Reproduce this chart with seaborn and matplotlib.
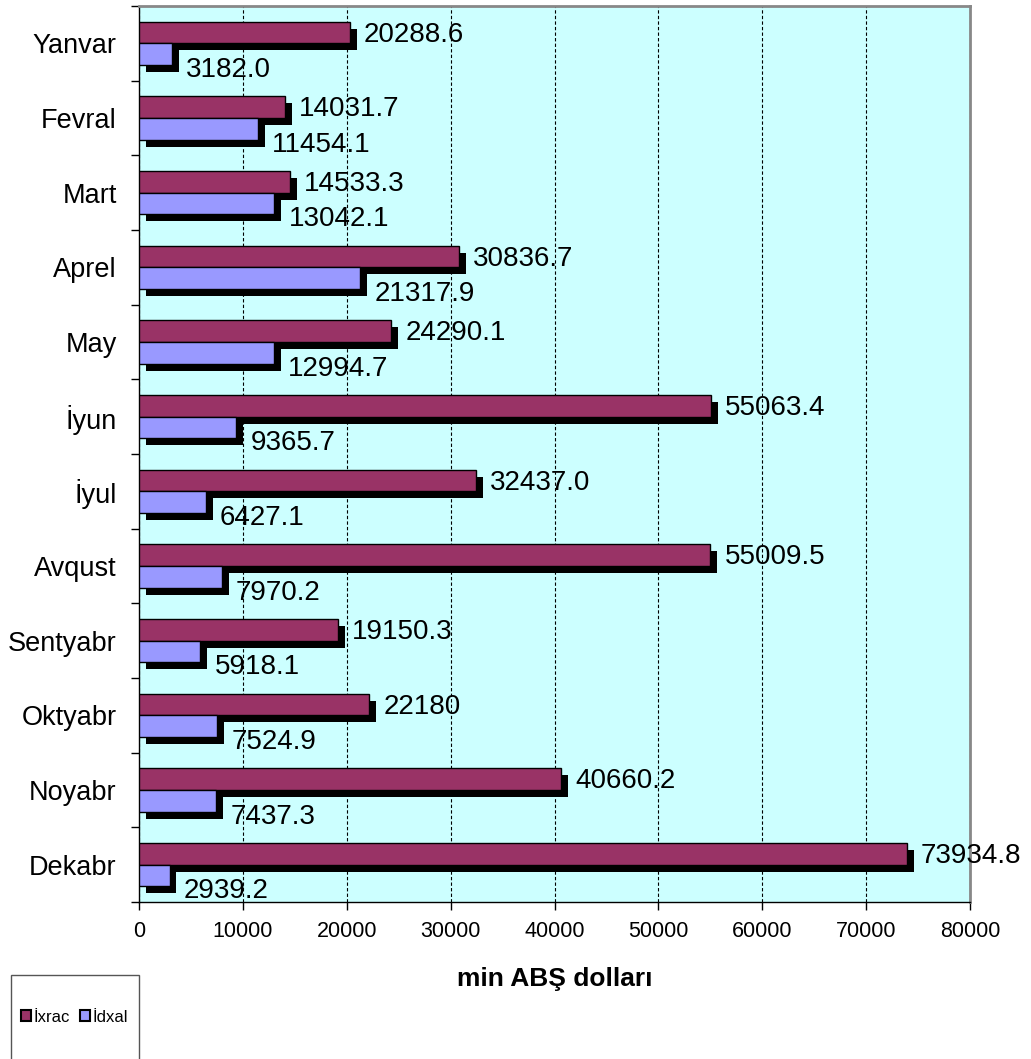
import pandas as pd
import seaborn as sns
import matplotlib.pyplot as plt
import matplotlib.patheffects as pe
from matplotlib.patches import Patch, Rectangle
from matplotlib.ticker import FixedLocator

months = ['Yanvar', 'Fevral', 'Mart', 'Aprel', 'May', 'İyun', 'İyul',
          'Avqust', 'Sentyabr', 'Oktyabr', 'Noyabr', 'Dekabr']
ixrac = [20288.6, 14031.7, 14533.3, 30836.7, 24290.1, 55063.4, 32437.0,
         55009.5, 19150.3, 22180, 40660.2, 73934.8]
idxal = [3182.0, 11454.1, 13042.1, 21317.9, 12994.7, 9365.7, 6427.1,
         7970.2, 5918.1, 7524.9, 7437.3, 2939.2]
ixrac_labels = ['20288.6', '14031.7', '14533.3', '30836.7', '24290.1', '55063.4',
                '32437.0', '55009.5', '19150.3', '22180', '40660.2', '73934.8']
idxal_labels = ['3182.0', '11454.1', '13042.1', '21317.9', '12994.7', '9365.7',
                '6427.1', '7970.2', '5918.1', '7524.9', '7437.3', '2939.2']
series = ['İxrac', 'İdxal']
x_ticks = [0, 10000, 20000, 30000, 40000, 50000, 60000, 70000, 80000]

maroon = '#993366'
lavender = '#9999FF'
bg = '#CCFFFF'

plt.rcParams['font.family'] = ['Liberation Sans', 'DejaVu Sans']

df = pd.DataFrame({
    'Ay': months * 2,
    'Dəyər': ixrac + idxal,
    'Növ': [series[0]] * len(months) + [series[1]] * len(months),
})

fig = plt.figure(figsize=(10.31, 10.59), dpi=100)
ax = fig.add_axes([139 / 1031, 1 - 902 / 1059, (970 - 139) / 1031, (902 - 6) / 1059])
ax.set_facecolor(bg)

sns.barplot(data=df, y='Ay', x='Dəyər', hue='Növ', order=months, hue_order=series,
            orient='h', palette=[maroon, lavender], saturation=1, width=0.58,
            edgecolor='black', linewidth=1, legend=False, ax=ax)

# excel tarzı gölge
for bar in ax.patches:
    bar.set_path_effects([pe.SimplePatchShadow(offset=(5, -5), shadow_rgbFace='black', alpha=1),
                          pe.Normal()])
    bar.set_zorder(3)

# değer etiketleri
for bar, txt in zip(ax.containers[0], ixrac_labels):
    yc = bar.get_y() + bar.get_height() / 2
    ax.annotate(txt, xy=(bar.get_width(), yc), xytext=(14, -2), textcoords='offset pixels',
                ha='left', va='center', fontsize=20, zorder=5, annotation_clip=False)
for bar, txt in zip(ax.containers[1], idxal_labels):
    yc = bar.get_y() + bar.get_height() / 2
    ax.annotate(txt, xy=(bar.get_width(), yc), xytext=(14, -16), textcoords='offset pixels',
                ha='left', va='center', fontsize=20, zorder=5, annotation_clip=False)

ax.set_xlim(0, 80000)
ax.set_ylim(len(months) - 0.5, -0.5)
ax.set_xticks(x_ticks)
ax.set_xticklabels([str(t) for t in x_ticks], fontsize=15.5)
ax.yaxis.set_minor_locator(FixedLocator([i - 0.5 for i in range(len(months) + 1)]))
ax.tick_params(axis='y', which='major', length=0, labelsize=19.5, pad=16)
ax.tick_params(axis='y', which='minor', length=6, width=1, color='black')
ax.tick_params(axis='x', length=6, width=1, color='black', pad=8)

ax.set_axisbelow(True)
ax.xaxis.grid(True, color='black', linestyle=(0, (3, 2)), linewidth=0.8)
ax.yaxis.grid(False)

ax.set_ylabel('')
ax.set_xlabel('min ABŞ dolları', fontsize=19, fontweight='bold', labelpad=18)

for side in ['left', 'bottom']:
    ax.spines[side].set_color('black')
    ax.spines[side].set_linewidth(1)
for side in ['top', 'right']:
    ax.spines[side].set_color('#888888')
    ax.spines[side].set_linewidth(2)

# lejant kutusu (alt sol, kesik)
fig.patches.append(Rectangle((11 / 1031, -0.05), 128 / 1031, (1059 - 975) / 1059 + 0.05,
                             transform=fig.transFigure, fill=False, edgecolor='#555555',
                             linewidth=1, clip_on=False))
handles = [Patch(facecolor=maroon, edgecolor='black', linewidth=1.5),
           Patch(facecolor=lavender, edgecolor='black', linewidth=1.5)]
fig.legend(handles, series, loc='center left', bbox_to_anchor=(21 / 1031, 1 - 1017 / 1059),
           ncol=2, frameon=False, fontsize=12, handlelength=0.6, handleheight=0.6,
           handletextpad=0.15, columnspacing=0.6, borderpad=0, borderaxespad=0)

fig.savefig('out.png', dpi=100)
